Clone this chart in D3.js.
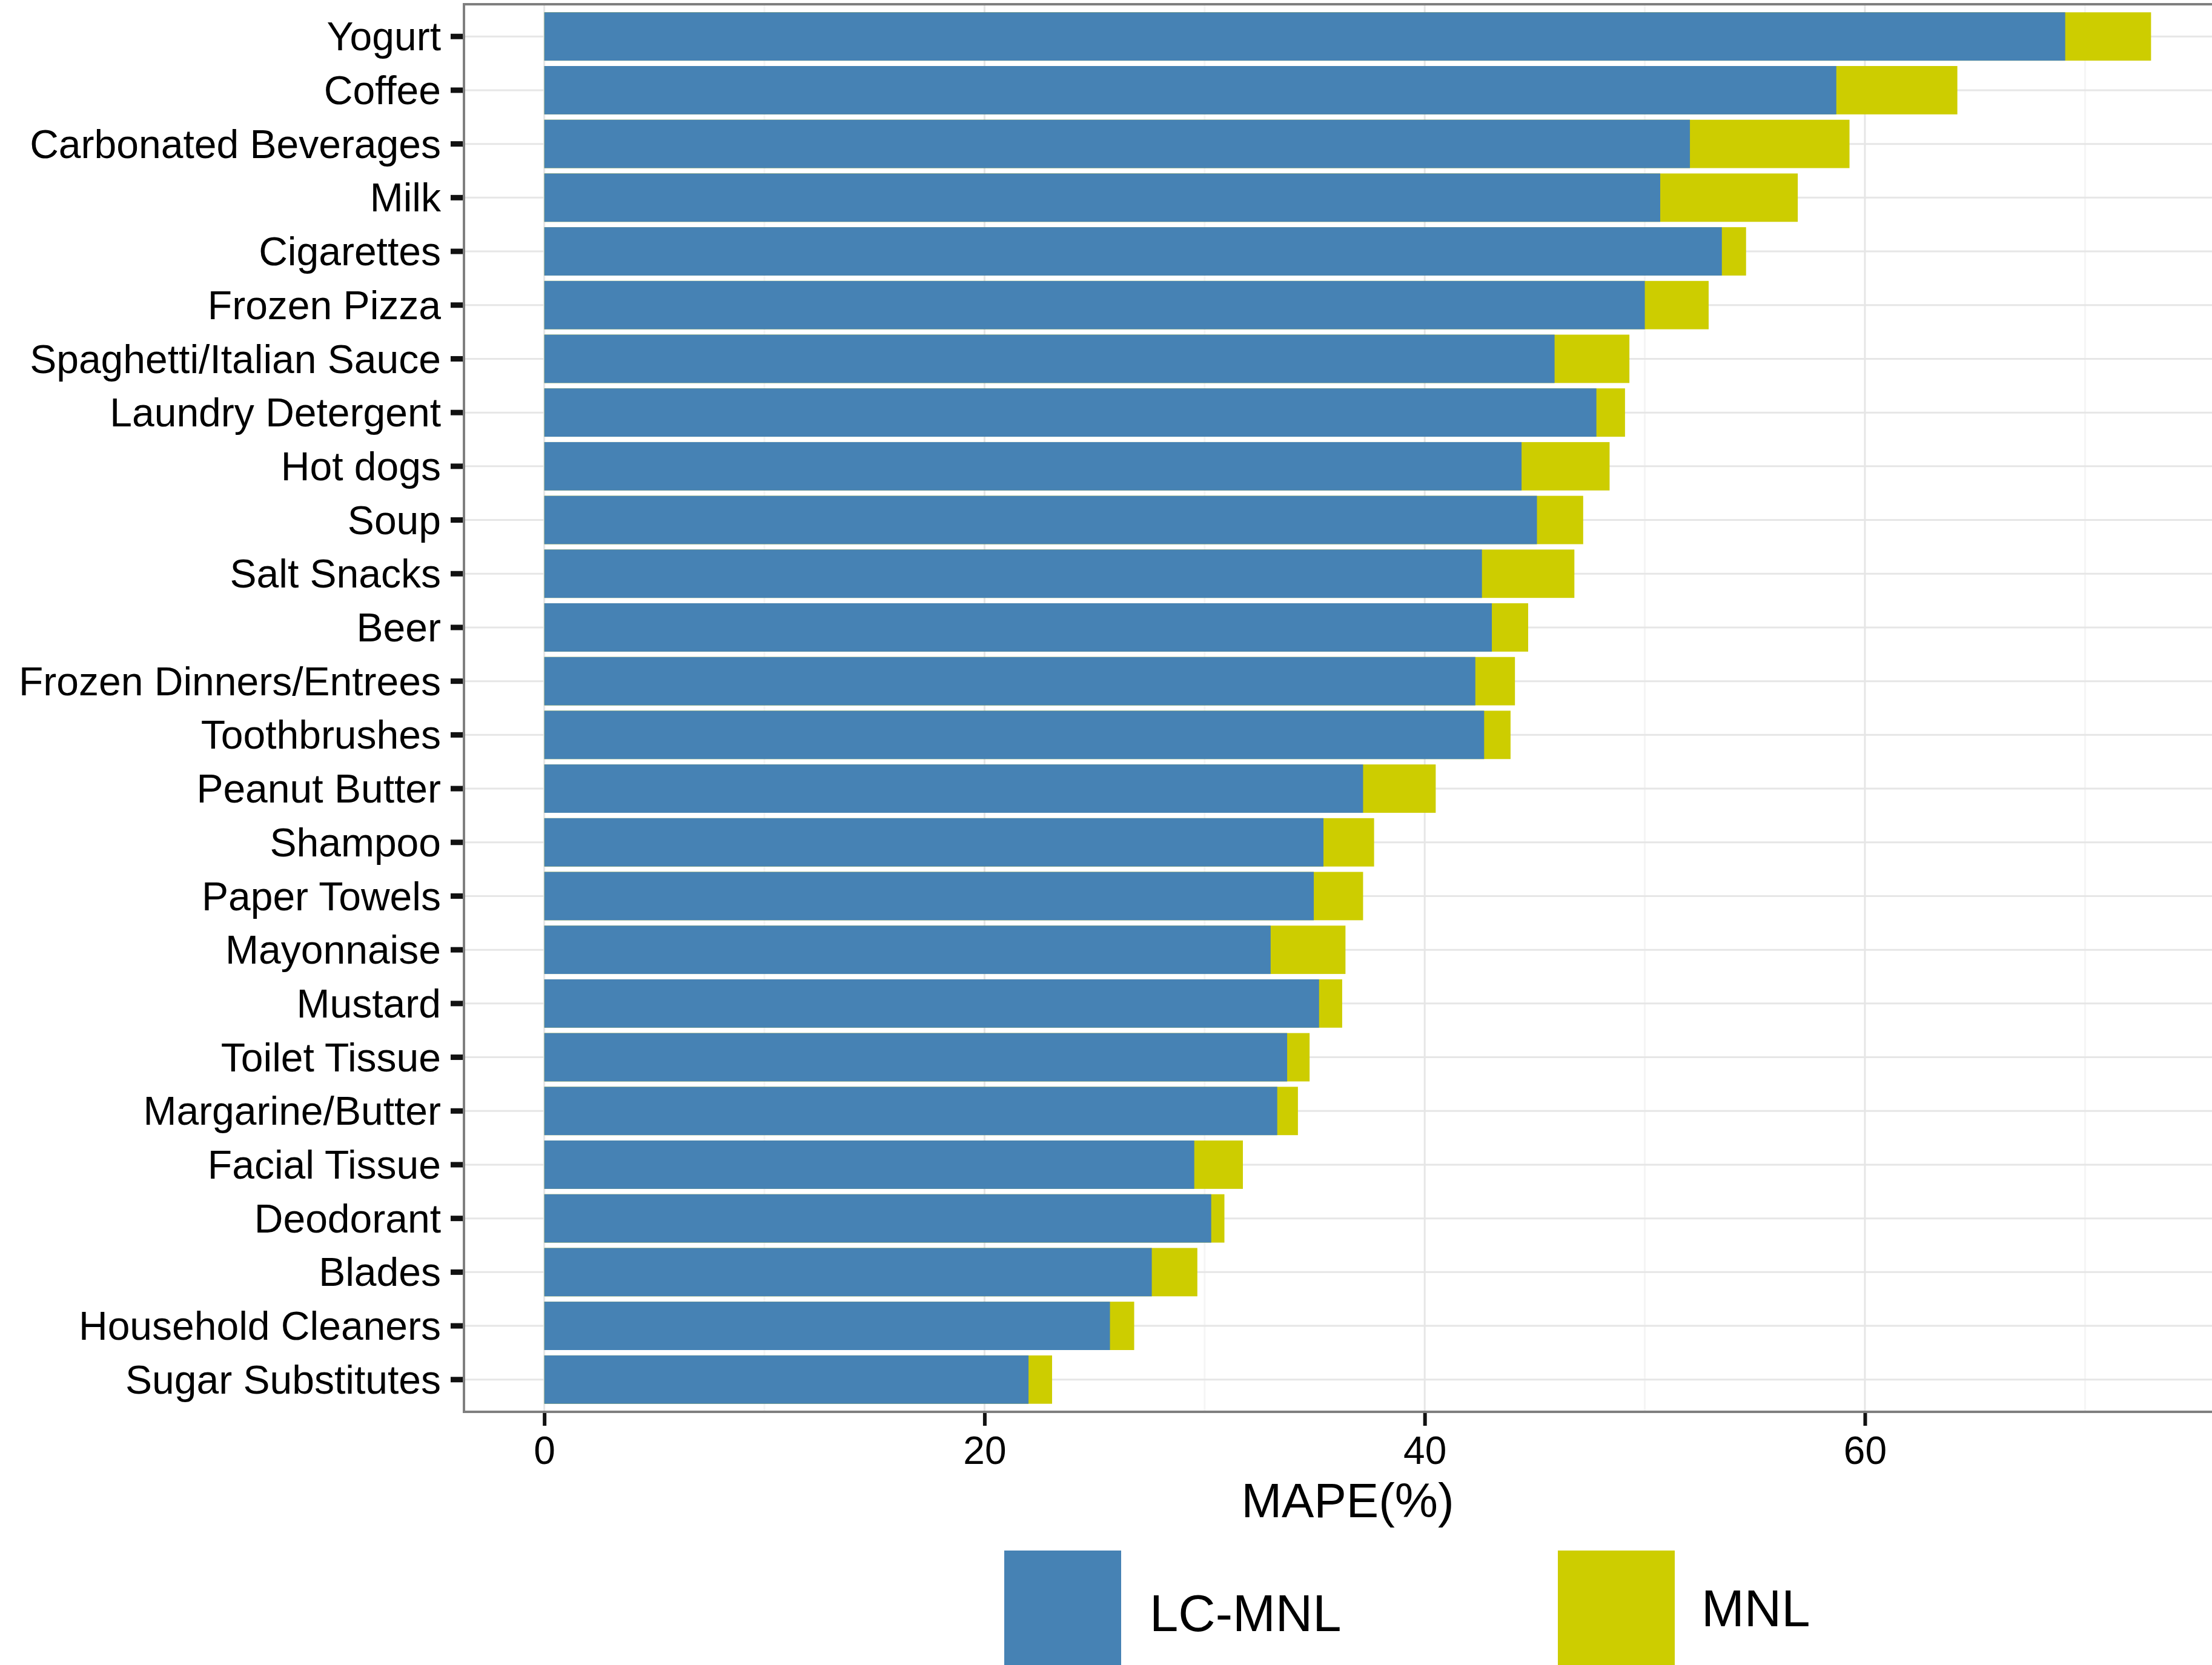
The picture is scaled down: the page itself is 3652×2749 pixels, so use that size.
<!DOCTYPE html>
<html>
<head>
<meta charset="utf-8">
<script src="https://cdn.jsdelivr.net/npm/d3@7"></script>
<style>
  html, body { margin: 0; padding: 0; background: #fff; }
  svg { display: block; }
  text { font-family: "Liberation Sans", Arial, Helvetica, sans-serif; }
</style>
</head>
<body>
<script>
const categories = [
  "Yogurt", "Coffee", "Carbonated Beverages", "Milk", "Cigarettes", "Frozen Pizza",
  "Spaghetti/Italian Sauce", "Laundry Detergent", "Hot dogs", "Soup", "Salt Snacks",
  "Beer", "Frozen Dinners/Entrees", "Toothbrushes", "Peanut Butter", "Shampoo",
  "Paper Towels", "Mayonnaise", "Mustard", "Toilet Tissue", "Margarine/Butter",
  "Facial Tissue", "Deodorant", "Blades", "Household Cleaners", "Sugar Substitutes"
];
const lcmnl = [
  69.1, 58.7, 52.05, 50.7, 53.5, 50.0,
  45.9, 47.8, 44.4, 45.1, 42.6,
  43.05, 42.3, 42.7, 37.2, 35.4,
  34.96, 33.0, 35.2, 33.75, 33.3,
  29.53, 30.3, 27.6, 25.7, 22.0
];
const mnl = [
  73.0, 64.2, 59.3, 56.95, 54.6, 52.9,
  49.3, 49.1, 48.4, 47.2, 46.8,
  44.7, 44.1, 43.9, 40.5, 37.7,
  37.2, 36.4, 36.25, 34.77, 34.24,
  31.74, 30.9, 29.67, 26.8, 23.07
];
const seriesNames = ["LC-MNL", "MNL"];
const seriesColors = ["#4682B4", "#CDCD00"];
const xTicks = [0, 20, 40, 60];
const xMinorTicks = [10, 30, 50, 70];
const xTitle = "MAPE(%)";

const W = 3652, H = 2749;
const panel = { left: 766, right: 3684, top: 7, bottom: 2331 };

const svg = d3.select("body").append("svg")
  .attr("width", W).attr("height", H)
  .attr("viewBox", `0 0 ${W} ${H}`);

svg.append("rect").attr("width", W).attr("height", H).attr("fill", "#fff");

const x = d3.scaleLinear().domain([-3.65, 76.65]).range([panel.left, panel.right]);
const y = d3.scaleBand().domain(categories)
  .range([panel.top, panel.bottom])
  .paddingInner(0.1).paddingOuter(0.15).align(0.5);

const g = svg.append("g");

// minor grid
g.append("g").selectAll("line").data(xMinorTicks).join("line")
  .attr("x1", d => x(d)).attr("x2", d => x(d))
  .attr("y1", panel.top).attr("y2", panel.bottom)
  .attr("stroke", "#f5f5f5").attr("stroke-width", 3);

// major grid vertical
g.append("g").selectAll("line").data(xTicks).join("line")
  .attr("x1", d => x(d)).attr("x2", d => x(d))
  .attr("y1", panel.top).attr("y2", panel.bottom)
  .attr("stroke", "#e6e6e6").attr("stroke-width", 3);

// major grid horizontal
g.append("g").selectAll("line").data(categories).join("line")
  .attr("x1", panel.left).attr("x2", panel.right)
  .attr("y1", d => y(d) + y.bandwidth() / 2).attr("y2", d => y(d) + y.bandwidth() / 2)
  .attr("stroke", "#e6e6e6").attr("stroke-width", 3);

// MNL bars (full value)
g.append("g").selectAll("rect").data(categories).join("rect")
  .attr("x", x(0))
  .attr("y", d => y(d))
  .attr("width", (d, i) => x(mnl[i]) - x(0))
  .attr("height", y.bandwidth())
  .attr("fill", seriesColors[1]);

// LC-MNL bars
g.append("g").selectAll("rect").data(categories).join("rect")
  .attr("x", x(0))
  .attr("y", d => y(d))
  .attr("width", (d, i) => x(lcmnl[i]) - x(0))
  .attr("height", y.bandwidth())
  .attr("fill", seriesColors[0]);

// panel border
svg.append("rect")
  .attr("x", panel.left).attr("y", panel.top)
  .attr("width", panel.right - panel.left).attr("height", panel.bottom - panel.top)
  .attr("fill", "none").attr("stroke", "#7f7f7f").attr("stroke-width", 4);

// y axis
const yAxis = d3.axisLeft(y).tickSize(20).tickPadding(16);
const yg = svg.append("g").attr("transform", `translate(${panel.left - 2},0)`).call(yAxis);
yg.select(".domain").remove();
yg.selectAll(".tick line").attr("stroke", "#111").attr("stroke-width", 9);
yg.selectAll(".tick text")
  .attr("font-size", 66).attr("fill", "#000")
  .attr("font-family", "'Liberation Sans', Arial, Helvetica, sans-serif")
  .attr("dy", "0.35em");

// x axis
const xAxis = d3.axisBottom(x).tickValues(xTicks).tickFormat(d3.format("d")).tickSize(21).tickPadding(18);
const xg = svg.append("g").attr("transform", `translate(0,${panel.bottom + 2})`).call(xAxis);
xg.select(".domain").remove();
xg.selectAll(".tick line").attr("stroke", "#111").attr("stroke-width", 6);
xg.selectAll(".tick text")
  .attr("font-size", 64).attr("fill", "#000")
  .attr("font-family", "'Liberation Sans', Arial, Helvetica, sans-serif")
  .attr("dy", "0.71em");

// x title
svg.append("text")
  .attr("x", (panel.left + panel.right) / 2)
  .attr("y", 2505)
  .attr("text-anchor", "middle")
  .attr("font-size", 80).attr("fill", "#000")
  .text(xTitle);

// legend
const legendKeys = [
  { x: 1658, textX: 1898, baseline: 2693 },
  { x: 2572, textX: 2809, baseline: 2685 }
];
const lg = svg.append("g");
lg.selectAll("rect").data(seriesNames).join("rect")
  .attr("x", (d, i) => legendKeys[i].x)
  .attr("y", 2560)
  .attr("width", 193)
  .attr("height", 260)
  .attr("fill", (d, i) => seriesColors[i]);
lg.selectAll("text").data(seriesNames).join("text")
  .attr("x", (d, i) => legendKeys[i].textX)
  .attr("y", (d, i) => legendKeys[i].baseline)
  .attr("font-size", 85).attr("fill", "#000")
  .text(d => d);
</script>
</body>
</html>
